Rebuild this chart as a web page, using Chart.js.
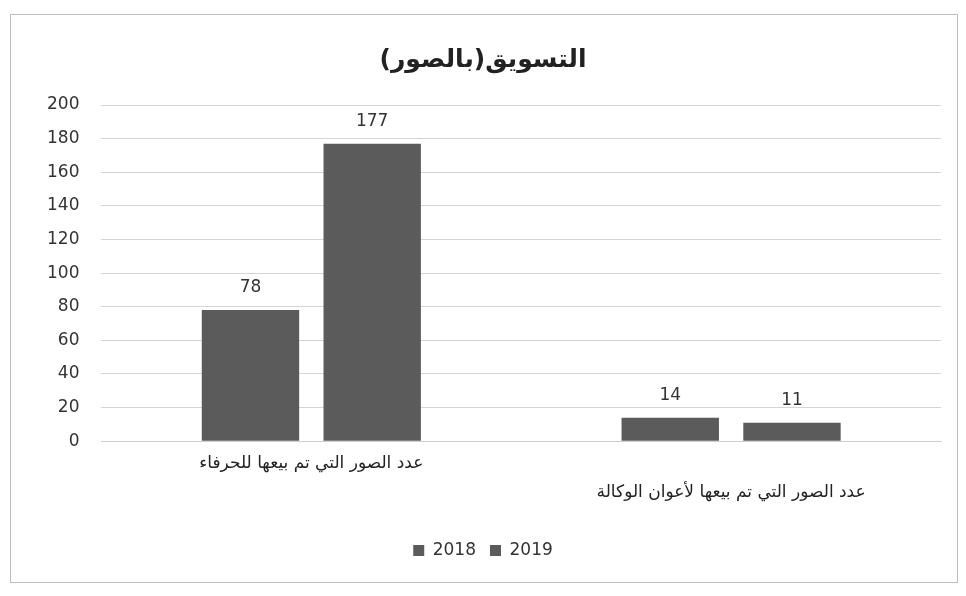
<!DOCTYPE html>
<html>
<head>
<meta charset="utf-8">
<script src="https://cdn.jsdelivr.net/npm/chart.js@4/dist/chart.umd.min.js"></script>
<style>
  body { margin: 0; background: #fff; }
  #cadre {
    position: absolute; left: 10px; top: 14px;
    width: 946px; height: 567px;
    border: 1px solid #bdbdbd;
  }
</style>
</head>
<body>
<div id="cadre"><canvas id="myChart"></canvas></div>
<script>
// categories (la 2e étiquette est décalée d'une ligne comme sur l'image)
let categories = [
    "عدد الصور التي تم بيعها للحرفاء",
    ["", "عدد الصور التي تم بيعها لأعوان الوكالة"]
];
let serie2018 = [78, 14];
let serie2019 = [177, 11];
let annees = ["2018", "2019"];
let titre = "التسويق(بالصور)";

let police = "'DejaVu Sans', 'Liberation Sans', sans-serif";

// valeurs au-dessus des barres
const etiquettes = {
    id: "etiquettes",
    afterDatasetsDraw(chart) {
        let ctx = chart.ctx;
        ctx.save();
        ctx.fillStyle = "#333";
        ctx.font = "17px " + police;
        ctx.textAlign = "center";
        ctx.textBaseline = "bottom";
        chart.data.datasets.forEach((ds, i) => {
            chart.getDatasetMeta(i).data.forEach((bar, j) => {
                ctx.fillText(ds.data[j], bar.x, bar.y - 14);
            });
        });
        ctx.restore();
    }
};

new Chart("myChart", {
    type: "bar",
    data: {
        labels: categories,
        datasets: [{
            label: annees[0],
            data: serie2018,
            backgroundColor: "#5b5b5b",
            categoryPercentage: 0.58,
            barPercentage: 0.8
        }, {
            label: annees[1],
            data: serie2019,
            backgroundColor: "#5b5b5b",
            categoryPercentage: 0.58,
            barPercentage: 0.8
        }]
    },
    options: {
        responsive: true,
        maintainAspectRatio: false,
        animation: false,
        layout: { padding: { left: 14, right: 16, top: 10, bottom: 13 } },
        plugins: {
            title: {
                display: true,
                text: titre,
                color: "#222",
                font: { family: police, size: 25, weight: "bold" },
                padding: { top: 20, bottom: 30 }
            },
            legend: {
                position: "bottom",
                labels: {
                    color: "#333",
                    font: { family: police, size: 17 },
                    boxWidth: 11,
                    boxHeight: 11,
                    padding: 14
                }
            },
            tooltip: { enabled: false }
        },
        scales: {
            x: {
                grid: { display: false },
                border: { color: "#cfcfcf" },
                afterFit(scale) { scale.height += 21; },
                ticks: {
                    color: "#222",
                    font: { family: police, size: 17, lineHeight: 1.7 },
                    maxRotation: 0,
                    padding: 0
                }
            },
            y: {
                min: 0,
                max: 200,
                border: { display: false },
                grid: { color: "#d4d4d4", drawTicks: false },
                ticks: {
                    stepSize: 20,
                    color: "#333",
                    font: { family: police, size: 17 },
                    padding: 22
                }
            }
        }
    },
    plugins: [etiquettes]
});
</script>
</body>
</html>
